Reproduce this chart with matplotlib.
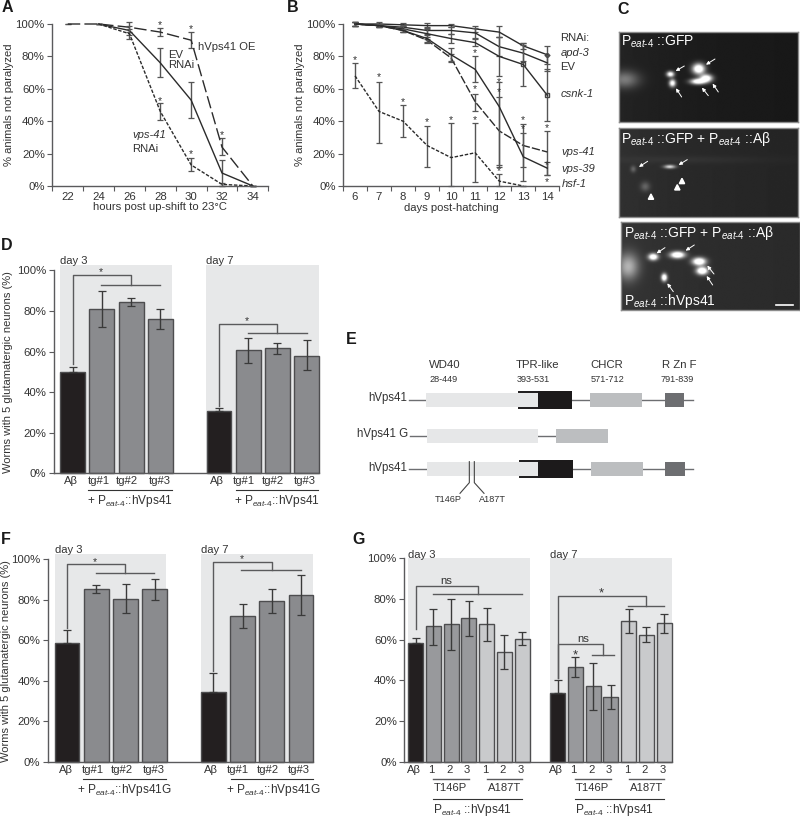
# -*- coding: utf-8 -*-
"""
Multi panel figure: paralysis curves, micrographs, neuron survival bars
and the hVps41 domain diagram.
"""

import numpy as np
import matplotlib
matplotlib.use('Agg')
import matplotlib.pyplot as plt
from matplotlib.patches import Polygon, Rectangle

plt.rcParams['font.family'] = ['Liberation Sans', 'DejaVu Sans']
plt.rcParams['mathtext.fontset'] = 'custom'
plt.rcParams['mathtext.rm'] = 'Liberation Sans'
plt.rcParams['mathtext.it'] = 'Liberation Sans:italic'
plt.rcParams['mathtext.bf'] = 'Liberation Sans:bold'

WIDTH = 800
HEIGHT = 817
TEXT = '#333333'
AXIS = '#5a5a5c'
PEAT = r'P$_{\mathit{eat}\text{-}\mathit{4}}$'

#  Panel A data
A_TICKS = [22, 24, 26, 28, 30, 32, 34]
A_OE_X = [22, 24, 26, 28, 30, 32, 34]
A_OE = [100, 100, 98, 95, 90, 24, 0]
A_OE_LO = [100, 100, 95, 92.5, 85, 19, 0]
A_OE_HI = [100, 100, 101, 97.5, 95, 29.5, 0]
A_EV_X = [24, 26, 28, 30, 32, 34]
A_EV = [100, 96, 76, 53, 8, 0]
A_EV_LO = [100, 93, 67, 42, 0, 0]
A_EV_HI = [100, 99, 85, 64.5, 16, 0]
A_VPS_X = [24, 26, 28, 30, 32, 34]
A_VPS = [100, 94, 46, 13, 1, 0]
A_VPS_LO = [100, 91, 41, 9.5, 0, 0]
A_VPS_HI = [100, 97, 51, 17, 2, 0]
A_STARS_X = [28, 30, 28, 30, 32]
A_STARS_Y = [99.5, 97, 52.5, 19.5, 31.5]

#  Panel B data
B_DAYS = [6, 7, 8, 9, 10, 11, 12, 13, 14]
B_APD = [100, 100, 99.5, 99, 99, 97, 95, 86.5, 81]
B_APD_LO = [99, 99, 98.5, 97.5, 98, 95, 92, 84.5, 75.5]
B_APD_HI = [101, 101, 100.5, 100.5, 100, 99, 98.5, 88.5, 86.5]
B_EV = [100, 99, 98, 96, 96, 94.5, 86, 82, 76]
B_EV_LO = [99, 98, 96.5, 94, 94, 91.5, 80, 77, 71]
B_EV_HI = [101, 100, 99.5, 98, 98, 97.5, 92, 87, 81]
B_CSNK = [100, 99, 97, 94, 91, 88.5, 80, 75, 56]
B_CSNK_LO = [99, 98, 95, 91, 88, 86.5, 68, 62, 40]
B_CSNK_HI = [101, 100, 99, 97, 94, 90.5, 92, 88, 72]
B_V41 = [100, 99, 96, 90, 79, 52, 34, 25, 21]
B_V41_LO = [99, 98, 95, 88, 76.5, 46, 12, 12, 7]
B_V41_HI = [101, 100, 97, 92, 81.5, 57, 55, 38, 34]
B_V39 = [100, 99, 96, 91, 81, 72, 49, 18, 11]
B_V39_LO = [99, 98, 95, 89, 77, 64, 13, 3, 7]
B_V39_HI = [101, 100, 97, 93, 85, 80, 64, 33, 15]
B_HSF_DAYS = [6, 7, 8, 9, 10, 11, 12, 13]
B_HSF = [68, 46, 40, 25, 17.5, 20.5, 3, 0]
B_HSF_LO = [60.5, 26.5, 30, 12, 0, 2.5, 0, 0]
B_HSF_HI = [76, 64.5, 50, 37, 39, 39, 7.5, 0]
B_STARS_X = [6, 7, 8, 9, 10, 11, 11, 11, 12, 12, 12, 13, 13, 14, 14, 14]
B_STARS_Y = [78, 67, 52, 39.5, 41, 41, 60, 82, 64, 58, 9, 41, 35, 36, 13, 2.5]
B_LABELS = ['RNAi:', 'apd-3', 'EV', 'csnk-1', 'vps-41', 'vps-39', 'hsf-1']
B_LABELS_Y = [91.5, 82, 73.5, 57, 21, 10.5, 1.5]
B_LABELS_X = [14.54, 14.54, 14.54, 14.54, 14.6, 14.6, 14.6]
B_LABELS_STYLE = ['normal', 'italic', 'normal', 'italic',
                  'italic', 'italic', 'italic']

#  Panel D data
D_X = [0, 1, 2, 3, 5, 6, 7, 8]
D_VALUES = [50, 81, 84.5, 76, 30.5, 60.5, 61.5, 58]
D_LO = [50, 72, 82.5, 71, 30.5, 54.5, 59, 51]
D_HI = [52.5, 90, 86.5, 81, 32, 66.5, 64, 65.5]
D_LABELS = ['Aβ', 'tg#1', 'tg#2', 'tg#3', 'Aβ', 'tg#1', 'tg#2', 'tg#3']
D_LABELS_X = [-0.05, 0.89, 1.87, 2.97, 4.93, 5.85, 6.85, 7.93]

#  Panel F data
F_VALUES = [58.5, 85.5, 80.5, 85.5, 34.5, 72, 79.5, 82.5]
F_LO = [58.5, 83.5, 73.5, 80, 34.5, 66, 73.5, 72.5]
F_HI = [65, 87.5, 88, 90.5, 44, 78, 85.5, 92.5]

#  Panel G data
G_X = [0, 1, 2, 3, 4, 5, 6, 8, 9, 10, 11, 12, 13, 14]
G_VALUES = [58.5, 66.5, 67.5, 70.5, 67.5, 54, 60.5,
            34, 46.5, 37, 32, 69, 62.5, 68]
G_LO = [58.5, 57.5, 55, 62, 59.5, 45.5, 57.5,
        34, 41.5, 25.5, 26, 63.5, 59, 63.5]
G_HI = [61, 75, 80, 79, 75.5, 62.5, 64,
        40, 51.5, 48.5, 37.5, 75, 66, 72.5]
G_LABELS = ['Aβ', '1', '2', '3', '1', '2', '3',
            'Aβ', '1', '2', '3', '1', '2', '3']
BLACK_BAR = '#231f20'
GREY_BAR = '#8a8b8e'
G_COLOURS = [BLACK_BAR] + ['#98999c'] * 3 + ['#c9cacc'] * 3
G_COLOURS = G_COLOURS + G_COLOURS

#  Panel E data, in reference crop units
E_ROWS = [210, 317, 417]
E_LINES = [(207, 1058), (211, 650), (207, 1058)]
E_BOXES = [
    (0, 258, 593, '#e6e7e8'), (0, 751, 906, '#bcbec0'),
    (0, 975, 1033, '#6d6e71'), (1, 261, 595, '#e6e7e8'),
    (1, 648, 803, '#bcbec0'), (2, 260, 595, '#e6e7e8'),
    (2, 753, 908, '#bcbec0'), (2, 976, 1035, '#6d6e71')]
E_TPR = [(0, 538, 593, 697), (2, 540, 595, 699)]
E_TITLES = [('WD40', 268), ('TPR-like', 527), ('CHCR', 752), ('R Zn F', 967)]
E_RANGES = [('28-449', 268), ('393-531', 529), ('571-712', 752),
            ('791-839', 961)]
E_NAMES = [('hVps41', 201, 205), ('hVps41 G', 203, 313), ('hVps41', 201, 413)]

#  Panel C data, spots as x, y, sigma x, sigma y, brightness
C1_SPOTS = [(297, 208, 13, 11, 1.2), (320, 236, 13, 8, 1.1),
            (295, 246, 16, 6, 1.1), (212, 224, 8, 6, 1.0),
            (218, 251, 7, 8, 1.0), (75, 240, 30, 18, 0.35)]
C2_SPOTS = [(210, 501, 12, 4, 0.7), (100, 508, 6, 7, 0.22),
            (136, 561, 10, 10, 0.22), (250, 480, 180, 8, 0.04)]
C3_SPOTS = [(160, 771, 10, 7, 1.1), (233, 765, 15, 7, 1.2),
            (298, 785, 14, 8, 1.2), (307, 813, 12, 8, 1.2),
            (193, 833, 6, 8, 1.1), (85, 800, 22, 28, 0.5)]
C1_ARROWS = [(253, 198, 227, 213), (345, 177, 318, 194), (245, 291, 228, 265),
             (325, 287, 306, 263), (355, 276, 338, 251)]
C2_ARROWS = [(143, 484, 117, 501), (262, 479, 236, 495)]
C2_HEADS = [(153, 590), (232, 562), (246, 543)]
C3_ARROWS = [(195, 743, 170, 760), (283, 735, 257, 752), (342, 822, 322, 797),
             (338, 855, 320, 828), (220, 875, 202, 850)]

#  Function definitions


def box_axes(left, top, right, bottom):
    """Returns axes placed by pixel box of the 800x817 figure"""
    return FIGURE.add_axes([left / WIDTH, 1 - bottom / HEIGHT,
                            (right - left) / WIDTH, (bottom - top) / HEIGHT])


def style_axes(axes, tick_size=8.2, ticks=(0, 20, 40, 60, 80, 100)):
    """Removes the box and sets the percent y axis"""
    axes.patch.set_alpha(0)
    for side in ['top', 'right']:
        axes.spines[side].set_visible(False)
    for side in ['left', 'bottom']:
        axes.spines[side].set_color(AXIS)
        axes.spines[side].set_linewidth(1.0)
    axes.set_ylim(0, 100)
    axes.set_yticks(ticks)
    axes.set_yticklabels(['{0}%'.format(value) for value in ticks])
    axes.tick_params(axis='y', length=3.4, width=0.8, color=AXIS, pad=2,
                     labelsize=tick_size, labelcolor=TEXT)


def error_line(axes, x_values, values, low, high, style):
    """Draws one curve with its error bars"""
    values = np.array(values, dtype=float)
    errors = [values - np.array(low), np.array(high) - values]
    axes.errorbar(x_values, values, yerr=errors, fmt='none', ecolor='#555555',
                  elinewidth=1.0, capsize=2.4, capthick=0.9, clip_on=False)
    axes.plot(x_values, values, linestyle=style, color='#2b2b2b', linewidth=1.0,
              clip_on=False)


def bar_panel(axes, x_values, values, low, high, colours, spans, top=102.6):
    """Draws grey backgrounds, bars and error bars of a bar panel"""
    for start, stop in spans:
        axes.add_patch(Rectangle((start, 0), stop - start, top,
                                 color='#e7e8e9', linewidth=0, clip_on=False,
                                 zorder=0))
    axes.bar(x_values, values, width=0.85, color=colours, edgecolor='#4d4d4f',
             linewidth=1.0, zorder=2, clip_on=False)
    values = np.array(values, dtype=float)
    errors = [values - np.array(low), np.array(high) - values]
    axes.errorbar(x_values, values, yerr=errors, fmt='none', ecolor='#3a3a3a',
                  elinewidth=1.0, capsize=2.6, capthick=0.9, zorder=3,
                  clip_on=False)
    axes.set_xticks([])


def bracket(axes, start, low, high, middle, drop, left, right):
    """Draws a significance bracket"""
    axes.plot([start, start, middle, middle], [low, high, high, drop],
              color=AXIS, linewidth=1.0, clip_on=False, zorder=4)
    axes.plot([left, right], [drop, drop], color=AXIS, linewidth=1.0,
              clip_on=False, zorder=4)


def label(axes, x_value, y_value, string, size=8.1, **kwargs):
    """Writes centred dark text in data coordinates"""
    kwargs.setdefault('ha', 'center')
    kwargs.setdefault('va', 'center')
    axes.text(x_value, y_value, string, fontsize=size, color=TEXT,
              clip_on=False, **kwargs)


def micrograph(box, extent, background, spots, arrows):
    """Draws one fluorescence picture from its list of spots"""
    axes = box_axes(*box)
    x_grid, y_grid = np.meshgrid(np.linspace(extent[0], extent[1], 270),
                                 np.linspace(extent[2], extent[3], 135))
    image = background + 0.05 * np.exp(-(x_grid - extent[0]) / 250)
    for x_spot, y_spot, x_sigma, y_sigma, level in spots:
        image = image + level * np.exp(-((x_grid - x_spot) / x_sigma)**2 / 2
                                       - ((y_grid - y_spot) / y_sigma)**2 / 2)
    axes.imshow(np.clip(image, 0, 1), cmap='gray', vmin=0, vmax=1,
                extent=[extent[0], extent[1], extent[3], extent[2]],
                aspect='auto', interpolation='bilinear')
    for x_start, y_start, x_end, y_end in arrows:
        axes.annotate('', xy=(x_end, y_end), xytext=(x_start, y_start),
                      arrowprops=dict(arrowstyle='-|>', color='white', lw=0.7,
                                      mutation_scale=5, shrinkA=0, shrinkB=0))
    axes.set_xticks([])
    axes.set_yticks([])
    for side in axes.spines.values():
        side.set_color('#8c8c8c')
        side.set_linewidth(1.0)
    return axes


#  Main code

FIGURE = plt.figure(figsize=(WIDTH / 100, HEIGHT / 100), dpi=100)

PANEL_LETTERS = [('A', 2, 8), ('B', 287, 8), ('C', 617, 9), ('D', 1, 246),
                 ('E', 346, 339), ('F', 1, 539), ('G', 352, 540)]
for letter, x_letter, y_letter in PANEL_LETTERS:
    FIGURE.text(x_letter / WIDTH, 1 - y_letter / HEIGHT, letter, fontsize=11.5,
                fontweight='bold', color='#1a1a1a', va='center')

# Panel A
PLOT_A = box_axes(52.3, 24, 268.3, 186)
style_axes(PLOT_A)
PLOT_A.set_xlim(21, 35)
error_line(PLOT_A, A_OE_X, A_OE, A_OE_LO, A_OE_HI, (0, (9, 3)))
error_line(PLOT_A, A_EV_X, A_EV, A_EV_LO, A_EV_HI, '-')
error_line(PLOT_A, A_VPS_X, A_VPS, A_VPS_LO, A_VPS_HI, (0, (2.5, 1.2)))
PLOT_A.set_xticks([tick + 1 for tick in A_TICKS] + [21])
PLOT_A.set_xticklabels([])
PLOT_A.set_xticks(A_TICKS, minor=True)
PLOT_A.set_xticklabels(A_TICKS, minor=True)
PLOT_A.tick_params(axis='x', which='major', length=3.4, width=0.8, color=AXIS)
PLOT_A.tick_params(axis='x', which='minor', length=0, pad=4, labelsize=8.2,
                   labelcolor=TEXT)
PLOT_A.set_xlabel('hours post up-shift to 23°C', fontsize=8.1, color=TEXT,
                  labelpad=0)
PLOT_A.set_ylabel('% animals not paralyzed', fontsize=8.1, color=TEXT,
                  labelpad=1)
for x_star, y_star in zip(A_STARS_X, A_STARS_Y):
    label(PLOT_A, x_star, y_star, '*', size=7.5)
label(PLOT_A, 30.45, 86, 'hVps41 OE', ha='left')
label(PLOT_A, 28.53, 81, 'EV', ha='left')
label(PLOT_A, 28.53, 74.5, 'RNAi', ha='left')
label(PLOT_A, 26.2, 31.5, 'vps-41', ha='left', style='italic')
label(PLOT_A, 26.2, 23, 'RNAi', ha='left')

# Panel B
PLOT_B = box_axes(343, 24, 559.3, 186)
style_axes(PLOT_B)
PLOT_B.set_xlim(5.5, 14.5)
B_STYLES = ['-', '-', '-', (0, (6, 1.5)), '-', (0, (2.5, 1.2))]
error_line(PLOT_B, B_DAYS, B_APD, B_APD_LO, B_APD_HI, B_STYLES[0])
error_line(PLOT_B, B_DAYS, B_EV, B_EV_LO, B_EV_HI, B_STYLES[1])
error_line(PLOT_B, B_DAYS, B_CSNK, B_CSNK_LO, B_CSNK_HI, B_STYLES[2])
error_line(PLOT_B, B_DAYS, B_V41, B_V41_LO, B_V41_HI, B_STYLES[3])
error_line(PLOT_B, B_DAYS, B_V39, B_V39_LO, B_V39_HI, B_STYLES[4])
error_line(PLOT_B, B_HSF_DAYS, B_HSF, B_HSF_LO, B_HSF_HI, B_STYLES[5])
PLOT_B.plot(B_DAYS[-1], B_APD[-1], 'o', mfc='none', mec='#444444', ms=2.5)
PLOT_B.plot(B_DAYS[-2:], B_CSNK[-2:], 's', mfc='none', mec='#444444', ms=2.5)
PLOT_B.set_xticks([day - 0.5 for day in B_DAYS] + [14.5])
PLOT_B.set_xticklabels([])
PLOT_B.set_xticks(B_DAYS, minor=True)
PLOT_B.set_xticklabels(B_DAYS, minor=True)
PLOT_B.tick_params(axis='x', which='major', length=3.4, width=0.8, color=AXIS)
PLOT_B.tick_params(axis='x', which='minor', length=0, pad=4, labelsize=8.2,
                   labelcolor=TEXT)
PLOT_B.set_xlabel('days post-hatching', fontsize=8.1, color=TEXT, labelpad=1)
PLOT_B.set_ylabel('% animals not paralyzed', fontsize=8.1, color=TEXT,
                  labelpad=1)
for x_star, y_star in zip(B_STARS_X, B_STARS_Y):
    label(PLOT_B, x_star, y_star, '*', size=7.5)
for string, x_text, y_text, font_style in zip(B_LABELS, B_LABELS_X, B_LABELS_Y,
                                              B_LABELS_STYLE):
    label(PLOT_B, x_text, y_text, string, ha='left', style=font_style)

# Panel C
PICTURE_1 = micrograph((619.3, 31.7, 798.3, 122.3), (58, 595, 95, 367), 0.09,
                       C1_SPOTS, C1_ARROWS)
PICTURE_1.text(64, 125, PEAT + ' ::GFP', fontsize=10, color='white', va='center')

PICTURE_2 = micrograph((619.3, 128.3, 798.3, 217.3), (58, 595, 385, 652), 0.14,
                       C2_SPOTS, C2_ARROWS)
PICTURE_2.text(64, 417, PEAT + ' ::GFP + ' + PEAT + ' ::Aβ', fontsize=10,
               color='white', va='center')
for x_head, y_head in C2_HEADS:
    PICTURE_2.add_patch(Polygon([(x_head - 8, y_head + 8),
                                 (x_head + 8, y_head + 8), (x_head, y_head - 8)],
                                color='white'))

PICTURE_3 = micrograph((621.3, 222.3, 800, 310), (64, 600, 667, 930), 0.16,
                       C3_SPOTS, C3_ARROWS)
PICTURE_3.text(72, 700, PEAT + ' ::GFP + ' + PEAT + ' ::Aβ', fontsize=10,
               color='white', va='center')
PICTURE_3.text(72, 903, PEAT + ' ::hVps41', fontsize=10, color='white',
               va='center')
PICTURE_3.plot([527, 580], [915, 915], color='white', linewidth=1.2)

# Panel D
PLOT_D = box_axes(53.7, 270.3, 319, 473.3)
style_axes(PLOT_D)
PLOT_D.set_xlim(-0.648, 8.42)
bar_panel(PLOT_D, D_X, D_VALUES, D_LO, D_HI,
          [BLACK_BAR, GREY_BAR, GREY_BAR, GREY_BAR] * 2,
          [(-0.42, 3.38), (4.55, 8.42)])
PLOT_D.set_ylabel('Worms with 5 glutamatergic neurons (%)', fontsize=8,
                  color=TEXT, labelpad=3)
bracket(PLOT_D, 0, 54, 97.7, 1.98, 92.8, 0.98, 2.98)
bracket(PLOT_D, 5, 33, 73.4, 7, 69.1, 6, 8)
label(PLOT_D, 0.98, 99, '*', size=7.5)
label(PLOT_D, 5.97, 75, '*', size=7.5)
label(PLOT_D, -0.42, 104.5, 'day 3', ha='left')
label(PLOT_D, 4.55, 104.5, 'day 7', ha='left')
for x_text, string in zip(D_LABELS_X, D_LABELS):
    label(PLOT_D, x_text, -4, string)
PLOT_D.plot([0.52, 3.39], [-8.2, -8.2], color=TEXT, lw=0.8, clip_on=False)
PLOT_D.plot([5.57, 8.38], [-8.2, -8.2], color=TEXT, lw=0.8, clip_on=False)
label(PLOT_D, 1.95, -13.6, '+ ' + PEAT + '::hVps41', size=8.6)
label(PLOT_D, 7.0, -13.6, '+ ' + PEAT + '::hVps41', size=8.6)

# Panel E
PLOT_E = box_axes(340, 330, 740, 520)
PLOT_E.set_xlim(0, 1200)
PLOT_E.set_ylim(570, 0)
PLOT_E.axis('off')
for row, (start, stop) in zip(E_ROWS, E_LINES):
    PLOT_E.plot([start, stop], [row, row], color='#6d6e71', lw=1.0, zorder=1)
for row, start, stop, colour in E_BOXES:
    PLOT_E.add_patch(Rectangle((start, E_ROWS[row] - 21), stop - start, 42,
                               color=colour, linewidth=0, zorder=2))
for row, start, middle, stop in E_TPR:
    PLOT_E.add_patch(Rectangle((middle, E_ROWS[row] - 27), stop - middle, 54,
                               color='#1c1a1b', linewidth=0, zorder=3))
    for offset in (-25, 25):
        PLOT_E.plot([start, middle], [E_ROWS[row] + offset] * 2,
                    color='#1c1a1b', lw=1.4, zorder=3)
for string, x_text in E_TITLES:
    label(PLOT_E, x_text, 104, string, size=8.2, ha='left')
for string, x_text in E_RANGES:
    label(PLOT_E, x_text, 147, string, size=6.6, ha='left')
for string, x_text, y_text in E_NAMES:
    label(PLOT_E, x_text, y_text, string, size=8.3, ha='right')
PLOT_E.plot([388, 388, 360], [395, 458, 490], color='#444444', lw=0.8, zorder=4)
PLOT_E.plot([403, 403, 432], [395, 458, 490], color='#444444', lw=0.8, zorder=4)
label(PLOT_E, 326, 510, 'T146P', size=6.6)
label(PLOT_E, 458, 510, 'A187T', size=6.6)

# Panel F
PLOT_F = box_axes(47.7, 559.3, 313.3, 762)
style_axes(PLOT_F)
PLOT_F.set_xlim(-0.66, 8.42)
bar_panel(PLOT_F, D_X, F_VALUES, F_LO, F_HI,
          [BLACK_BAR, GREY_BAR, GREY_BAR, GREY_BAR] * 2,
          [(-0.42, 3.38), (4.57, 8.42)])
PLOT_F.set_ylabel('Worms with 5 glutamatergic neurons (%)', fontsize=8,
                  color=TEXT, labelpad=0)
bracket(PLOT_F, 0, 66, 97.5, 1.97, 93, 0.98, 2.98)
bracket(PLOT_F, 4.99, 45, 98.8, 7.02, 94.6, 5.94, 7.99)
label(PLOT_F, 0.96, 98.5, '*', size=7.5)
label(PLOT_F, 5.97, 100, '*', size=7.5)
label(PLOT_F, -0.42, 104.5, 'day 3', ha='left')
label(PLOT_F, 4.57, 104.5, 'day 7', ha='left')
for x_text, string in zip(D_LABELS_X, D_LABELS):
    label(PLOT_F, x_text, -4, string)
PLOT_F.plot([0.55, 3.38], [-8.6, -8.6], color=TEXT, lw=0.8, clip_on=False)
PLOT_F.plot([5.6, 8.4], [-8.6, -8.6], color=TEXT, lw=0.8, clip_on=False)
label(PLOT_F, 1.95, -14, '+ ' + PEAT + '::hVps41G', size=8.6)
label(PLOT_F, 7.05, -14, '+ ' + PEAT + '::hVps41G', size=8.6)

# Panel G
PLOT_G = box_axes(404.3, 558.3, 671.7, 761.7)
style_axes(PLOT_G)
PLOT_G.set_xlim(-0.64, 14.43)
bar_panel(PLOT_G, G_X, G_VALUES, G_LO, G_HI, G_COLOURS,
          [(-0.44, 6.43), (7.57, 14.43)], top=100)
bracket(PLOT_G, 0, 65, 86.4, 3.49, 82.3, 1, 5.98)
bracket(PLOT_G, 8, 41, 81.3, 12.98, 76.7, 11.97, 14)
bracket(PLOT_G, 8, 41, 57.9, 10.56, 52.6, 9.96, 11.16)
label(PLOT_G, 1.73, 88.7, 'ns')
label(PLOT_G, 9.44, 60.5, 'ns')
label(PLOT_G, 10.47, 82.5, '*', size=9.5)
label(PLOT_G, 8.97, 52, '*', size=9.5)
label(PLOT_G, -0.42, 101.5, 'day 3', ha='left')
label(PLOT_G, 7.57, 101.5, 'day 7', ha='left')
for x_text, string in zip(G_X, G_LABELS):
    label(PLOT_G, x_text - 0.1, -4.3, string)
for shift in (0, 8):
    PLOT_G.plot([shift + 1, shift + 3], [-8.7, -8.7], color=AXIS, lw=1.0,
                clip_on=False)
    PLOT_G.plot([shift + 4, shift + 6], [-8.7, -8.7], color=AXIS, lw=1.0,
                clip_on=False)
    PLOT_G.plot([shift + 1, shift + 6], [-18.3, -18.3], color=TEXT, lw=0.8,
                clip_on=False)
    label(PLOT_G, shift + 1.95, -13, 'T146P')
    label(PLOT_G, shift + 5, -13, 'A187T')
    label(PLOT_G, shift + 3.2, -23.8, PEAT + ' ::hVps41', size=8.6)

plt.savefig('out.png', dpi=100)
